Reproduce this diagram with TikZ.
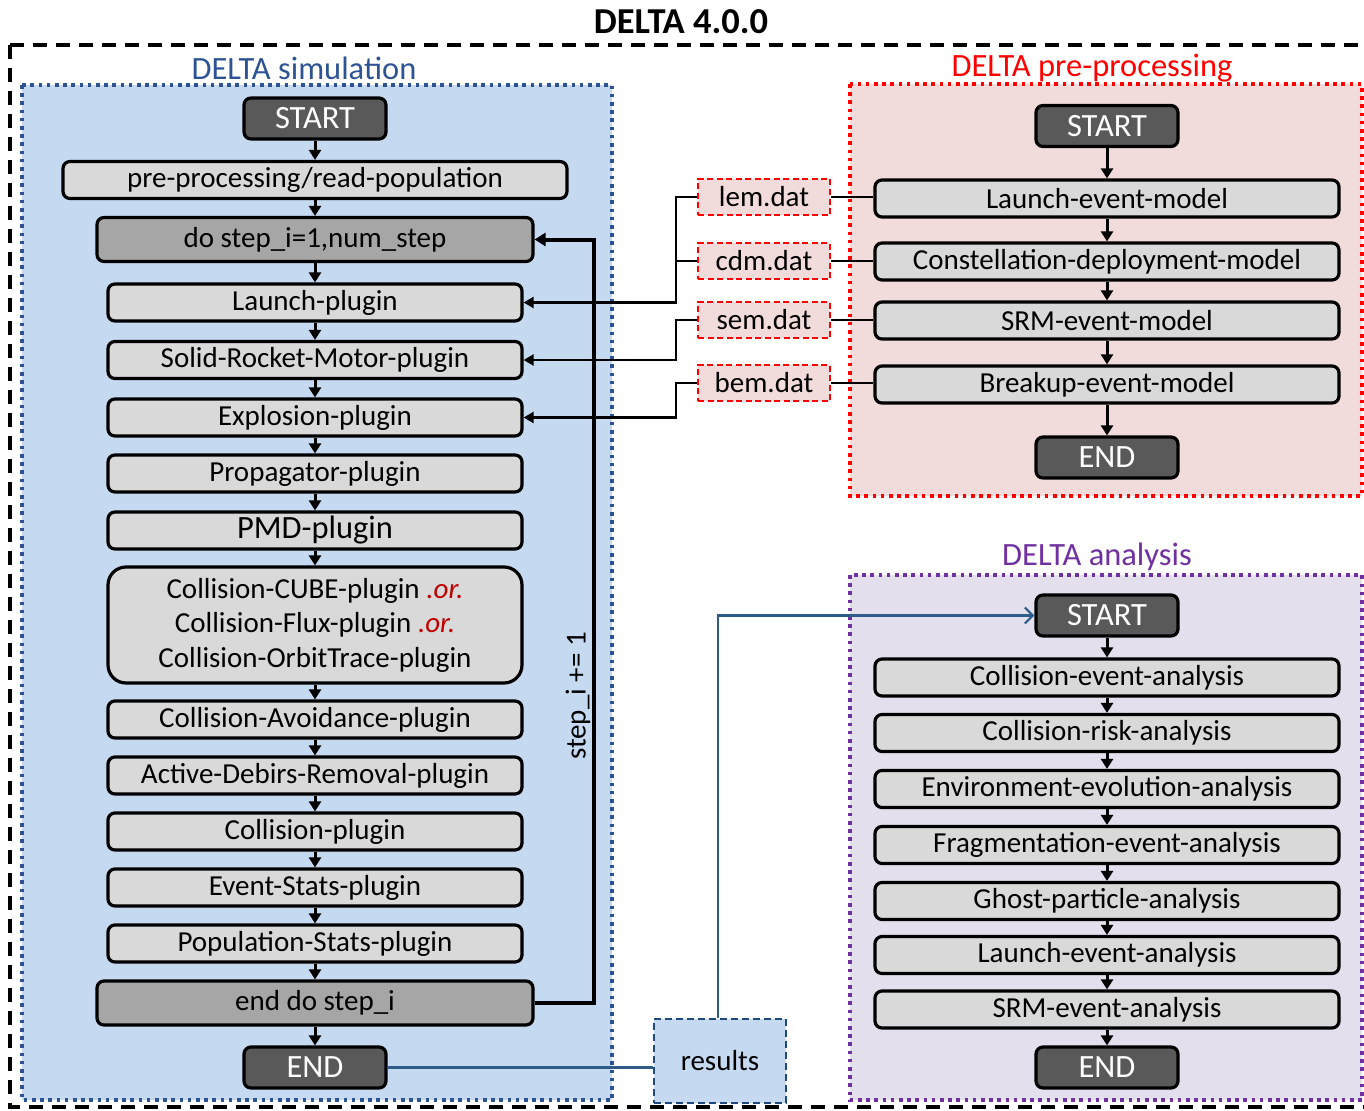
\documentclass[tikz,border=0pt]{standalone}
\usepackage{fontspec}
\setmainfont{Carlito}
\usetikzlibrary{arrows.meta}
\definecolor{simfill}{HTML}{C5D9F1}
\definecolor{simline}{HTML}{2E5395}
\definecolor{prefill}{HTML}{F2DCDB}
\definecolor{preline}{HTML}{FF0000}
\definecolor{anafill}{HTML}{E4DFEC}
\definecolor{analine}{HTML}{7030A0}
\definecolor{boxgray}{HTML}{D9D9D9}
\definecolor{loopgray}{HTML}{A6A6A6}
\definecolor{termgray}{HTML}{595959}
\definecolor{orred}{HTML}{C00000}
\definecolor{resline}{HTML}{1F497D}
\definecolor{bluecon}{HTML}{2E5C8A}
\tikzset{
  x=1pt, y=-1pt,
  proc/.style={draw=black, line width=3.2pt, rounded corners=7pt, fill=boxgray,
    inner sep=0pt, minimum height=37pt, font=\fontsize{29}{33}\selectfont, text=black},
  wide/.style={proc, minimum width=414pt},
  rwide/.style={proc, minimum width=464pt},
  loopbox/.style={proc, fill=loopgray, minimum width=436pt, minimum height=44pt},
  term/.style={proc, fill=termgray, text=white, minimum width=142pt, minimum height=41pt,
    font=\fontsize{32.5}{36}\selectfont},
  datbox/.style={draw=preline, dash pattern=on 6pt off 3.5pt, line width=2.6pt, fill=prefill,
    minimum width=132pt, minimum height=36pt, inner sep=0pt, font=\fontsize{29}{33}\selectfont},
  arr/.style={line width=3pt, -{Triangle[length=10pt,width=12pt]}},
  thinarr/.style={line width=2.2pt, -{Triangle[length=10pt,width=11pt]}},
  thinline/.style={line width=2.2pt},
  grplabel/.style={font=\fontsize{32.5}{36}\selectfont, inner sep=0pt},
  grpbox/.style={line width=3.5pt, dash pattern=on 3.6pt off 4.6pt},
}
\newcommand{\orr}{\textcolor{orred}{\textit{.or.}}}
\begin{document}
\begin{tikzpicture}
\useasboundingbox (0,0) rectangle (1364,1110);
% outer frame
\draw[line width=3.5pt, dash pattern=on 14pt off 9pt] (10,45) rectangle (1370,1107);
\node[font=\bfseries\fontsize{36.5}{40}\selectfont, inner sep=0pt] (title) at (681,22) {DELTA 4.0.0};

% group boxes
\draw[grpbox, fill=simfill, draw=simline] (22,85) rectangle (612,1100);
\draw[grpbox, fill=prefill, draw=preline] (850,84) rectangle (1362,496);
\draw[grpbox, fill=anafill, draw=analine] (850,575) rectangle (1362,1100);
\node[grplabel, text=simline] (simlab) at (304,68) {DELTA simulation};
\node[grplabel, text=preline] (prelab) at (1092,68) {DELTA pre-processing};
\node[grplabel, text=analine] (analab) at (1097,557) {DELTA analysis};

% simulation column
\node[term] (sstart) at (315,118.5) {START};
\node[proc, minimum width=504pt] (prp) at (315,180) {pre-processing/read-population};
\node[loopbox] (dostep) at (315,239.5) {do step\_i=1,num\_step};
\node[wide] (lp) at (315,302.5) {Launch-plugin};
\node[wide] (srm) at (315,360) {Solid-Rocket-Motor-plugin};
\node[wide] (exp) at (315,417.5) {Explosion-plugin};
\node[wide] (prop) at (315,473.5) {Propagator-plugin};
\node[wide, font=\fontsize{32.5}{34}\selectfont] (pmd) at (315,530.5) {PMD-plugin};
\node[wide, minimum height=116pt, rounded corners=18pt, align=center,
      font=\fontsize{29}{34.5}\selectfont] (coll3) at (315,625)
  {Collision-CUBE-plugin \orr\\Collision-Flux-plugin \orr\\Collision-OrbitTrace-plugin};
\node[wide] (cav) at (315,719.5) {Collision-Avoidance-plugin};
\node[wide] (adr) at (315,775.5) {Active-Debirs-Removal-plugin};
\node[wide] (col) at (315,831.5) {Collision-plugin};
\node[wide] (evs) at (315,887.5) {Event-Stats-plugin};
\node[wide] (pops) at (315,943.5) {Population-Stats-plugin};
\node[loopbox] (enddo) at (315,1003) {end do step\_i};
\node[term] (send) at (315,1067.5) {END};

\foreach \a/\b in {sstart/prp, prp/dostep, dostep/lp, lp/srm, srm/exp, exp/prop, prop/pmd,
  pmd/coll3, coll3/cav, cav/adr, adr/col, col/evs, evs/pops, pops/enddo, enddo/send}
  \draw[arr] (\a.south) -- (\b.north);

% loop
\coordinate (lpc) at (594,1003);
\draw[line width=4pt, -{Triangle[length=11pt,width=13pt]}] (enddo.east) -- (lpc) |- (dostep.east);
\node[rotate=90, font=\fontsize{29}{33}\selectfont, inner sep=0pt] (steplab) at (578,696) {step\_i += 1};

% pre-processing column
\node[term] (pstart) at (1107,126) {START};
\node[rwide] (lem) at (1107,198.5) {Launch-event-model};
\node[rwide] (cdm) at (1107,261.5) {Constellation-deployment-model};
\node[rwide] (sem) at (1107,320.5) {SRM-event-model};
\node[rwide] (bem) at (1107,384.5) {Breakup-event-model};
\node[term] (pend) at (1107,457.5) {END};
\foreach \a/\b in {pstart/lem, lem/cdm, cdm/sem, sem/bem, bem/pend}
  \draw[arr] (\a.south) -- (\b.north);

% dat files
\node[datbox] (lemd) at (764,197) {lem.dat};
\node[datbox] (cdmd) at (764,261) {cdm.dat};
\node[datbox] (semd) at (764,320) {sem.dat};
\node[datbox] (bemd) at (764,383) {bem.dat};
\foreach \d/\m in {lemd/lem, cdmd/cdm, semd/sem, bemd/bem}
  \draw[thinline] (\d.east) -- (\d.east -| \m.west);
\coordinate (j1) at (676,197);
\coordinate (j2) at (676,320);
\coordinate (j3) at (676,383);
\draw[thinarr] (lemd.west) -- (j1) |- (lp.east);
\draw[thinline] (cdmd.west) -- (cdmd.west -| j1);
\draw[thinarr] (semd.west) -- (j2) |- (srm.east);
\draw[thinarr] (bemd.west) -- (j3) |- (exp.east);

% analysis column
\node[term] (astart) at (1107,615.5) {START};
\node[rwide] (a1) at (1107,677.5) {Collision-event-analysis};
\node[rwide] (a2) at (1107,733) {Collision-risk-analysis};
\node[rwide] (a3) at (1107,789) {Environment-evolution-analysis};
\node[rwide] (a4) at (1107,845) {Fragmentation-event-analysis};
\node[rwide] (a5) at (1107,901) {Ghost-particle-analysis};
\node[rwide] (a6) at (1107,955) {Launch-event-analysis};
\node[rwide] (a7) at (1107,1009.5) {SRM-event-analysis};
\node[term] (aend) at (1107,1067.5) {END};
\foreach \a/\b in {astart/a1, a1/a2, a2/a3, a3/a4, a4/a5, a5/a6, a6/a7, a7/aend}
  \draw[arr] (\a.south) -- (\b.north);

% results
\node[draw=resline, fill=simfill, line width=2.6pt, dash pattern=on 7pt off 4pt,
      minimum width=132pt, minimum height=84pt, inner sep=0pt,
      font=\fontsize{29}{33}\selectfont] (res) at (720,1061) {results};
\draw[bluecon, line width=2.2pt] (send.east) -- (send.east -| res.west);
\draw[bluecon, line width=2.2pt, -{Straight Barb[length=8pt,width=16pt]}]
  (res.north -| 718,0) |- (astart.west);
\end{tikzpicture}
\end{document}
